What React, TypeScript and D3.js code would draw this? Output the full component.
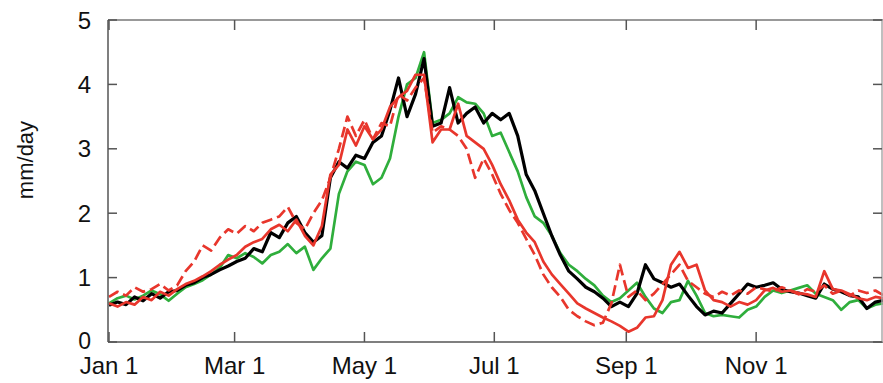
import React from "react";
import * as d3 from "d3";

const W = 883;
const H = 383;

// sample day-of-year (every 4 days)
const days: number[] = d3.range(0, 365, 4);

const tickDays = [0, 59, 120, 181, 243, 304];
const tickLabels = ["Jan 1", "Mar 1", "May 1", "Jul 1", "Sep 1", "Nov 1"];
const yTicks = [0, 1, 2, 3, 4, 5];

const blackSeries = [
  0.57, 0.62, 0.58, 0.7, 0.64, 0.75, 0.68, 0.78, 0.8, 0.88, 0.92, 1.0, 1.05, 1.12, 1.18, 1.25,
  1.3, 1.45, 1.4, 1.7, 1.62, 1.85, 1.95, 1.7, 1.55, 1.65, 2.55, 2.8, 2.7, 2.9, 2.85, 3.1,
  3.2, 3.6, 4.1, 3.5, 3.85, 4.4, 3.35, 3.4, 3.95, 3.4, 3.55, 3.65, 3.4, 3.55, 3.45, 3.55,
  3.2, 2.6, 2.35, 2.0, 1.65, 1.35, 1.1, 0.98, 0.85, 0.78, 0.68, 0.55, 0.62, 0.55, 0.75, 1.2,
  0.98, 0.92, 0.85, 0.9, 0.72, 0.55, 0.42, 0.48, 0.45, 0.6, 0.75, 0.9, 0.85, 0.88, 0.92, 0.82,
  0.78, 0.76, 0.72, 0.68, 0.9, 0.82, 0.78, 0.72, 0.7, 0.52, 0.62, 0.65,
];

const greenSeries = [
  0.6, 0.68, 0.72, 0.66, 0.72, 0.8, 0.74, 0.64, 0.75, 0.85, 0.9, 0.96, 1.05, 1.15, 1.35, 1.3,
  1.38, 1.32, 1.22, 1.35, 1.4, 1.52, 1.38, 1.48, 1.12, 1.3, 1.45, 2.3, 2.65, 2.8, 2.75, 2.45,
  2.55, 2.85, 3.5, 4.0, 4.1, 4.5, 3.4, 3.45, 3.55, 3.8, 3.72, 3.7, 3.55, 3.2, 3.25, 2.95,
  2.65, 2.25, 1.95, 1.85, 1.65, 1.38, 1.2, 1.1, 0.98, 0.88, 0.72, 0.62, 0.68, 0.8, 0.92, 0.7,
  0.52, 0.45, 0.62, 0.65, 0.95, 0.72, 0.45, 0.4, 0.42, 0.4, 0.38, 0.5, 0.55, 0.7, 0.8, 0.76,
  0.8, 0.84, 0.88, 0.75, 0.7, 0.65, 0.5, 0.62, 0.65, 0.52, 0.58, 0.6,
];

const redSeries = [
  0.6, 0.55, 0.62, 0.58, 0.7, 0.65, 0.78, 0.72, 0.82, 0.9, 0.95, 1.02, 1.1, 1.2, 1.28, 1.35,
  1.48, 1.55, 1.6, 1.75, 1.82, 1.72, 1.9, 1.65, 1.5, 1.8, 2.6, 2.75, 3.3, 3.05, 3.35, 3.15,
  3.3, 3.65, 3.8, 3.9, 4.15, 4.15, 3.1, 3.3, 3.3, 3.7, 3.2, 3.1, 3.0, 2.75, 2.45, 2.2,
  1.9, 1.7, 1.55, 1.25, 1.05, 0.9, 0.75, 0.6, 0.52, 0.45, 0.38, 0.32, 0.25, 0.16, 0.22, 0.38,
  0.4, 0.65, 1.2, 1.4, 1.15, 1.2, 0.8, 0.65, 0.62, 0.55, 0.62, 0.58, 0.65, 0.8, 0.84, 0.78,
  0.8, 0.76, 0.74, 0.7, 1.1, 0.82, 0.8, 0.74, 0.68, 0.65, 0.7, 0.68,
];

const redDashedSeries = [
  0.7, 0.78, 0.72, 0.85, 0.78, 0.82, 0.9, 0.8, 0.88, 1.1, 1.25, 1.5, 1.42, 1.62, 1.75, 1.68,
  1.8, 1.72, 1.85, 1.9, 1.95, 2.1, 1.85, 1.75, 2.0, 2.2, 2.55, 3.0, 3.5, 3.2, 3.45, 3.15,
  3.4, 3.35, 3.85, 3.75, 3.95, 4.1, 3.25, 3.35, 3.3, 3.2, 3.0, 2.55, 2.85, 2.6, 2.3, 2.05,
  1.85, 1.6, 1.35, 1.05, 0.85, 0.7, 0.5, 0.4, 0.32, 0.26, 0.3, 0.6, 1.2, 0.7, 0.8, 0.65,
  0.75, 0.9, 1.05, 1.2, 0.95, 0.85, 0.75, 0.7, 0.78, 0.72, 0.8, 0.75, 0.85, 0.82, 0.78, 0.85,
  0.8, 0.74, 0.82, 0.78, 0.88, 0.75, 0.8, 0.72, 0.8, 0.76, 0.8, 0.72,
];

const FONT = "'Liberation Sans', Arial, Helvetica, sans-serif";

export default function App() {
  const left = 108;
  const right = 882;
  const top = 20;
  const bottom = 342;

  const x = d3.scaleLinear().domain([0, 365]).range([109, 886]);
  const y = d3.scaleLinear().domain([0, 5]).range([bottom, top]);

  const line = d3
    .line<number>()
    .x((_, i) => x(days[i]))
    .y((v) => y(v));

  const axisColor = "#555";

  return (
    <svg
      width={W}
      height={H}
      style={{ position: "absolute", left: 0, top: 0, background: "#fff" }}
    >
      <defs>
        <clipPath id="plot">
          <rect x={left} y={0} width={W - left} height={bottom + 2} />
        </clipPath>
      </defs>

      {/* data lines */}
      <g clipPath="url(#plot)" fill="none" strokeLinejoin="round">
        <path d={line(greenSeries) || ""} stroke="#2fae3c" strokeWidth={2.7} />
        <path d={line(blackSeries) || ""} stroke="#000" strokeWidth={3.2} />
        <path
          d={line(redDashedSeries) || ""}
          stroke="#e8362c"
          strokeWidth={2.7}
          strokeDasharray="11,5"
        />
        <path d={line(redSeries) || ""} stroke="#e8362c" strokeWidth={2.7} />
      </g>

      {/* frame */}
      <line x1={left} x2={W} y1={top} y2={top} stroke="#999" strokeWidth={2} />
      <line x1={left} x2={W} y1={bottom} y2={bottom} stroke={axisColor} strokeWidth={1.5} />
      <line x1={left} x2={left} y1={top} y2={bottom} stroke={axisColor} strokeWidth={1.5} />
      <line x1={right} x2={right} y1={top} y2={bottom} stroke="#aaa" strokeWidth={1.5} />

      {/* x ticks */}
      {tickDays.map((d, i) => (
        <g key={"xt" + i}>
          <line x1={x(d)} x2={x(d)} y1={bottom} y2={bottom - 10} stroke={axisColor} strokeWidth={1.5} />
          <line x1={x(d)} x2={x(d)} y1={top} y2={top + 10} stroke={axisColor} strokeWidth={1.5} />
          <text
            x={x(d)}
            y={374}
            textAnchor="middle"
            fontFamily={FONT}
            fontSize={24}
            fill="#111"
          >
            {tickLabels[i]}
          </text>
        </g>
      ))}

      {/* y ticks */}
      {yTicks.map((t) => (
        <g key={"yt" + t}>
          <line x1={left} x2={left + 9} y1={y(t)} y2={y(t)} stroke={axisColor} strokeWidth={1.5} />
          <line x1={right - 9} x2={right} y1={y(t)} y2={y(t)} stroke={axisColor} strokeWidth={1.5} />
          <text
            x={91}
            y={y(t)}
            dy={t === 0 ? "0.3em" : "0.36em"}
            textAnchor="end"
            fontFamily={FONT}
            fontSize={t === 0 ? 23 : 24}
            fill="#111"
          >
            {t}
          </text>
        </g>
      ))}

      {/* y label */}
      <text
        transform="translate(33,160) rotate(-90)"
        textAnchor="middle"
        fontFamily={FONT}
        fontSize={22}
        fill="#111"
      >
        mm/day
      </text>
    </svg>
  );
}
